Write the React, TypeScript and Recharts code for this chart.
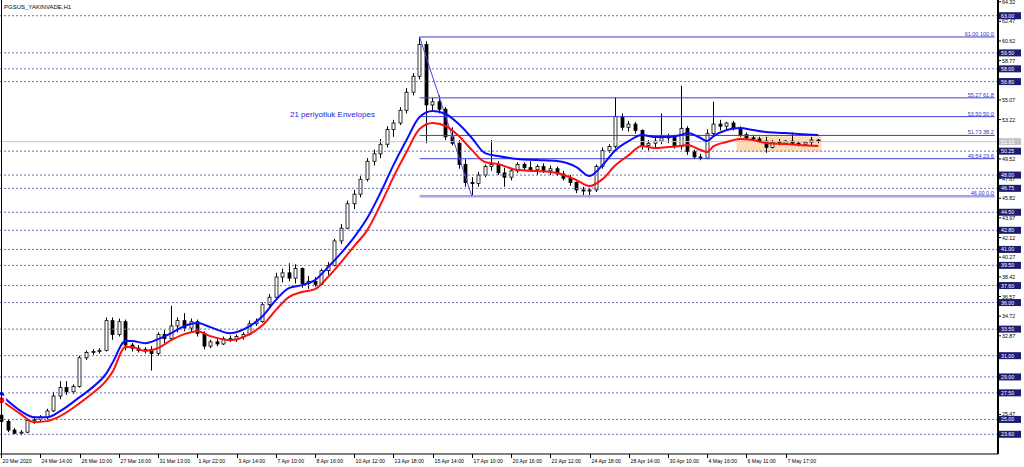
import {
  Bar,
  ComposedChart,
  Line,
  ReferenceArea,
  ReferenceLine,
  XAxis,
  YAxis
} from "recharts";

type Ohlc = [number, number, number, number]; // open, high, low, close

const candlesMarch: Ohlc[] = [
  [25.4, 25.6, 24.6, 24.8], [24.8, 25.0, 23.8, 24.0], [24.0, 24.2, 23.6, 23.7], [23.7, 24.0, 23.5, 23.8],
  [23.8, 25.0, 23.7, 24.9], [24.9, 25.3, 24.6, 25.0], [25.0, 25.4, 24.8, 25.2], [25.2, 26.0, 25.0, 25.8],
  [25.8, 27.6, 25.7, 27.2], [27.2, 28.6, 26.9, 28.0], [28.0, 28.6, 27.3, 27.6], [27.6, 28.3, 27.4, 28.1],
  [28.1, 31.0, 28.0, 30.8], [30.8, 31.5, 30.6, 31.3], [31.3, 31.6, 31.1, 31.4], [31.4, 31.7, 31.2, 31.5],
  [31.5, 34.6, 31.4, 34.3], [34.3, 34.6, 32.5, 33.0], [33.0, 34.5, 32.8, 34.2], [34.2, 34.4, 31.5, 32.0],
  [32.0, 32.2, 31.4, 31.7], [31.7, 32.0, 31.3, 31.5], [31.5, 31.8, 31.2, 31.6], [31.6, 31.9, 29.6, 31.2],
  [31.2, 33.2, 31.0, 33.0], [33.0, 33.4, 32.2, 32.6], [32.6, 35.7, 32.4, 33.8], [33.8, 34.6, 33.2, 34.3],
  [34.3, 35.0, 33.3, 33.6], [33.6, 34.5, 33.2, 34.2], [34.2, 34.4, 32.8, 33.1]
];

const candlesEarlyApril: Ohlc[] = [
  [33.1, 33.3, 31.6, 31.9], [31.9, 32.5, 31.7, 32.3], [32.3, 32.6, 31.9, 32.1], [32.1, 32.8, 32.0, 32.6],
  [32.6, 32.9, 32.3, 32.5], [32.5, 33.0, 32.3, 32.8], [32.8, 33.2, 32.5, 33.0], [33.0, 34.3, 32.9, 34.0],
  [34.0, 34.5, 33.8, 34.2], [34.2, 36.0, 34.1, 35.8], [35.8, 36.8, 35.5, 36.5], [36.5, 38.8, 36.4, 38.4],
  [38.4, 39.2, 37.9, 38.8], [38.8, 39.7, 38.0, 38.3], [38.3, 39.6, 37.8, 39.2], [39.2, 39.3, 37.4, 37.8],
  [37.8, 38.5, 37.3, 38.0], [38.0, 38.4, 37.5, 37.7], [37.7, 39.2, 37.6, 39.0], [39.0, 39.8, 38.6, 39.5],
  [39.5, 42.0, 39.4, 41.8], [41.8, 43.4, 41.5, 43.0], [43.0, 45.6, 42.9, 45.3], [45.3, 46.6, 44.8, 46.2],
  [46.2, 47.9, 45.9, 47.6], [47.6, 49.6, 47.4, 49.3], [49.3, 50.4, 48.9, 50.0], [50.0, 51.4, 49.6, 50.9],
  [50.9, 52.6, 50.6, 52.3], [52.3, 53.2, 51.6, 52.9], [52.9, 54.4, 52.7, 54.1], [54.1, 56.2, 53.8, 55.8],
  [55.8, 57.6, 55.5, 57.3], [57.3, 61.0, 57.0, 60.3]
];

const candlesLateApril: Ohlc[] = [
  [60.3, 60.6, 51.0, 54.6], [54.6, 55.3, 54.0, 54.9], [54.9, 55.5, 53.8, 54.2], [54.2, 54.4, 51.3, 51.6],
  [51.6, 52.5, 50.8, 51.0], [51.0, 51.3, 48.6, 49.0], [49.0, 49.5, 46.9, 47.3], [47.3, 47.8, 46.0, 47.2],
  [47.2, 48.3, 46.9, 48.0], [48.0, 49.0, 47.8, 48.8], [48.8, 51.3, 48.4, 49.0], [49.0, 49.3, 48.0, 48.2],
  [48.2, 48.7, 46.9, 47.8], [47.8, 48.6, 47.5, 48.4], [48.4, 49.2, 48.2, 49.0], [49.0, 49.2, 48.4, 48.7],
  [48.7, 49.3, 48.3, 48.5], [48.5, 49.0, 48.0, 48.8], [48.8, 49.1, 48.2, 48.4], [48.4, 48.9, 48.0, 48.6],
  [48.6, 48.8, 47.9, 48.1], [48.1, 48.4, 47.5, 47.7], [47.7, 48.0, 47.0, 47.3], [47.3, 47.4, 46.3, 46.6],
  [46.6, 46.9, 46.1, 46.5], [46.5, 46.8, 45.9, 46.6], [46.6, 49.0, 46.4, 48.8], [48.8, 50.6, 48.6, 50.3],
  [50.3, 50.9, 50.1, 50.7], [50.7, 55.3, 50.5, 53.5], [53.5, 53.8, 52.2, 52.5], [52.5, 53.1, 52.1, 52.8],
  [52.8, 53.0, 51.9, 52.2], [52.2, 52.3, 50.4, 50.8], [50.8, 51.3, 50.3, 51.0], [51.0, 51.5, 50.6, 51.2],
  [51.2, 53.8, 50.9, 51.5], [51.5, 51.9, 51.0, 51.6], [51.6, 51.8, 50.5, 50.7]
];

const candlesMay: Ohlc[] = [
  [50.7, 56.4, 50.4, 52.4], [52.4, 52.6, 49.9, 50.2], [50.2, 50.4, 49.5, 49.7], [49.7, 50.0, 49.4, 49.6],
  [49.6, 52.3, 49.5, 51.9], [51.9, 54.9, 51.6, 52.8], [52.8, 53.2, 52.2, 52.6], [52.6, 53.0, 52.3, 52.9],
  [52.9, 53.1, 52.2, 52.4], [52.4, 52.6, 51.6, 51.8], [51.8, 52.0, 51.3, 51.5], [51.5, 51.8, 51.2, 51.4],
  [51.4, 51.6, 51.1, 51.2], [51.2, 51.6, 50.1, 50.6], [50.6, 51.3, 50.5, 51.1], [51.1, 51.4, 50.8, 51.0],
  [51.0, 51.3, 50.9, 51.2], [51.2, 52.0, 50.9, 51.0], [51.0, 51.2, 50.7, 50.9], [50.9, 51.2, 50.8, 51.1],
  [51.1, 51.6, 50.8, 51.3], [51.3, 51.4, 51.0, 51.15]
];

// 21 periyotluk envelope, read at these bars
const envBars = [0, 3, 5, 7, 9, 12, 14, 16, 17, 19, 20, 22, 24, 26, 28, 30, 32, 35, 38, 40, 42, 44, 46, 48, 50,
  52, 54, 56, 58, 60, 62, 64, 66, 68, 70, 72, 74, 76, 79, 82, 85, 88, 90, 92, 94, 96, 98, 100, 102, 104,
  105, 107, 108, 109, 111, 113, 115, 117, 120, 122, 125];
const envUpper = [27.29, 25.78, 25.21, 25.21, 25.78, 27.1, 28.04, 29.26, 30.3, 32.37, 32.37, 32.18, 32.56,
  33.12, 33.78, 34.07, 33.69, 33.12, 33.78, 34.73, 36.23, 37.36, 37.64, 38.11, 39.34, 40.66, 42.16, 43.95,
  46.31, 48.94, 51.3, 53.46, 54.03, 53.75, 52.8, 51.49, 50.07, 49.79, 49.51, 49.41, 49.32, 48.75, 47.91,
  48.94, 50.36, 51.2, 51.77, 51.58, 51.58, 51.77, 51.96, 51.49, 51.2, 51.67, 52.24, 52.43, 52.24, 52.05,
  51.96, 51.86, 51.77];
const envLower = [26.81, 25.5, 24.74, 24.84, 25.31, 26.53, 27.48, 28.6, 29.45, 31.81, 31.81, 31.43, 31.71,
  32.46, 33.03, 33.31, 32.84, 32.46, 33.03, 33.88, 35.29, 36.51, 36.99, 37.27, 38.4, 39.81, 41.32, 42.82,
  45.18, 47.81, 50.17, 52.33, 52.9, 52.62, 51.67, 50.36, 49.23, 49.04, 48.47, 48.38, 48.19, 47.53, 46.97,
  47.63, 48.94, 49.88, 50.73, 50.54, 50.64, 50.73, 50.83, 50.36, 50.17, 50.73, 51.11, 51.39, 51.3, 51.02,
  50.92, 50.83, 50.73];

const labelBars = [0, 6, 12, 18, 24, 30, 36, 42, 48, 54, 60, 66, 72, 78, 84, 90, 96, 102, 108, 114, 120];
const timeLabels = ["20 Mar 2020", "24 Mar 14:00", "26 Mar 10:00", "27 Mar 16:00", "31 Mar 13:00",
  "1 Apr 22:00", "3 Apr 14:00", "7 Apr 10:00", "8 Apr 16:00", "10 Apr 12:00", "13 Apr 18:00",
  "15 Apr 14:00", "17 Apr 10:00", "20 Apr 16:00", "22 Apr 12:00", "24 Apr 18:00", "28 Apr 14:00",
  "30 Apr 10:00", "4 May 16:00", "6 May 11:00", "7 May 17:00"];

// scale labels that are not hidden under a level box
const scaleTicks = [64.32, 62.47, 60.62, 58.77, 56.92, 55.07, 53.22, 49.52, 47.67, 45.82, 43.97,
  42.12, 40.27, 38.42, 36.57, 34.72, 32.87, 25.47];
const priceLevels = [63, 59.5, 58, 56.8, 50.25, 48, 46.75, 44.5, 42.8, 41, 39.5, 37.6, 36, 33.5, 31, 29,
  27.5, 25, 23.6];
const lastPrice = 51.15;

const fibLevels = [61, 55.27, 53.5, 51.73, 49.54, 46];
const fibPercents = ["100.0", "61.8", "50.0", "38.2", "23.6", "0.0"];
const fibHighBar = 64;
const fibLowBar = 72;
const boxBars = [113, 125];
const boxPrices = [50.2, 51.65];

const slotCount = 153;
const font = "'Liberation Sans', Arial, sans-serif";

const candles = [...candlesMarch, ...candlesEarlyApril, ...candlesLateApril, ...candlesMay];

const data = Array.from({ length: slotCount }, (_, i) => {
  const c = candles[i];
  const k = envBars.indexOf(i);
  return {
    i,
    o: c ? c[0] : null,
    h: c ? c[1] : null,
    l: c ? c[2] : null,
    c: c ? c[3] : null,
    range: c ? [c[2], c[1]] : null,
    upper: k >= 0 ? envUpper[k] : null,
    lower: k >= 0 ? envLower[k] : null
  };
});

function Candle(props: any) {
  const { x, y, width, height, payload } = props;
  if (!payload || payload.h == null) return null;
  const { o, h, l, c } = payload;
  const top = Math.min(y, y + height);
  const span = Math.abs(height);
  const k = h === l ? 0 : span / (h - l);
  const cx = Math.round(x + width / 2) + 0.5;
  const yOf = (v: number) => top + (h - v) * k;
  const bodyTop = yOf(Math.max(o, c));
  const bodyBot = yOf(Math.min(o, c));
  const up = c >= o;
  return (
    <g>
      <line x1={cx} x2={cx} y1={top} y2={top + span} stroke="#000" strokeWidth={1} />
      <rect
        x={cx - 1.5}
        y={bodyTop}
        width={3}
        height={Math.max(0.8, bodyBot - bodyTop)}
        fill={up ? "#fff" : "#000"}
        stroke="#000"
        strokeWidth={0.8}
      />
    </g>
  );
}

function PriceTick(props: any) {
  const { x, y, payload } = props;
  const v = payload.value as number;
  const ax = x - 4;
  if (priceLevels.includes(v) || v === lastPrice) {
    return (
      <g>
        <rect x={ax + 1} y={y - 3.5} width={22} height={7} fill={v === lastPrice ? "#c4c4c4" : "#1c1c74"} />
        <text x={ax + 3} y={y + 2} fontSize={5.3} fill="#fff" fontFamily={font}>
          {v.toFixed(2)}
        </text>
      </g>
    );
  }
  return (
    <g>
      <line x1={ax} x2={ax + 3} y1={y} y2={y} stroke="#000" />
      <text x={ax + 4} y={y + 2} fontSize={5.3} fill="#000" fontFamily={font}>
        {v.toFixed(2)}
      </text>
    </g>
  );
}

function TimeTick(props: any) {
  const { x, y, payload } = props;
  const k = labelBars.indexOf(payload.value);
  const tx = Math.round(x) + 0.5;
  return (
    <g>
      <line x1={tx} x2={tx} y1={y} y2={y + 4} stroke="#000" />
      <text x={tx + 1} y={y + 9} fontSize={5.2} fill="#000" fontFamily={font}>
        {timeLabels[k]}
      </text>
    </g>
  );
}

export default function App() {
  return (
    <div style={{ position: "absolute", left: 0, top: 0, width: 1024, height: 467, background: "#fff" }}>
      <ComposedChart
        width={1024}
        height={467}
        data={data}
        margin={{ top: 0, right: 0, left: -2, bottom: 0 }}
      >
        <XAxis
          dataKey="i"
          type="category"
          ticks={labelBars}
          interval={0}
          tick={<TimeTick />}
          tickLine={false}
          tickSize={0}
          tickMargin={0}
          axisLine={{ stroke: "#000" }}
          height={13}
        />
        <YAxis
          orientation="right"
          domain={[21.745, 64.48]}
          allowDataOverflow
          ticks={[...scaleTicks, ...priceLevels, lastPrice]}
          interval={0}
          tick={<PriceTick />}
          tickLine={false}
          tickSize={4}
          tickMargin={0}
          axisLine={{ stroke: "#000", strokeWidth: 2 }}
          width={26}
        />
        <ReferenceArea
          x1={boxBars[0]}
          x2={boxBars[1]}
          y1={boxPrices[0]}
          y2={boxPrices[1]}
          fill="#fcdcb6"
          fillOpacity={1}
          stroke="none"
        />
        {priceLevels.map((v) => (
          <ReferenceLine key={v} y={v} stroke="#6c6cbc" strokeDasharray="2 2" />
        ))}
        <ReferenceLine y={lastPrice} stroke="#c8c8c8" />
        {fibLevels.map((v, k) => (
          <ReferenceLine
            key={`fib-${v}`}
            segment={[
              { x: fibHighBar, y: v },
              { x: slotCount - 1, y: v }
            ]}
            stroke={v === 46 ? "#a4a4ee" : "#3c3cd6"}
            strokeWidth={v === 46 ? 2.5 : 1}
            label={{
              value: `${v.toFixed(2)} ${fibPercents[k]}`,
              position: "insideBottomRight",
              offset: 1,
              fontSize: 5.5,
              fill: "#3434c4",
              fontFamily: font
            }}
          />
        ))}
        <ReferenceLine
          segment={[
            { x: fibHighBar, y: fibLevels[0] },
            { x: fibLowBar, y: fibLevels[fibLevels.length - 1] }
          ]}
          stroke="#4a4ae0"
        />
        <Bar dataKey="range" barSize={4} shape={<Candle />} isAnimationActive={false} />
        <Line
          dataKey="upper"
          type="monotone"
          stroke="#0a0aff"
          strokeWidth={2}
          dot={false}
          connectNulls
          isAnimationActive={false}
        />
        <Line
          dataKey="lower"
          type="monotone"
          stroke="#ff1010"
          strokeWidth={2}
          dot={false}
          connectNulls
          isAnimationActive={false}
        />
      </ComposedChart>
      <div
        style={{
          position: "absolute",
          left: 1,
          top: 0,
          width: 1,
          height: 454,
          background: "#000"
        }}
      />
      <div
        style={{
          position: "absolute",
          left: 4,
          top: 4,
          fontSize: 6,
          fontFamily: font,
          color: "#000",
          lineHeight: "7px"
        }}
      >
        PGSUS_YAKINVADE,H1
      </div>
      <div
        style={{
          position: "absolute",
          left: 290,
          top: 110,
          fontSize: 8,
          fontFamily: font,
          color: "#2424e0",
          lineHeight: "10px"
        }}
      >
        21 periyotluk Envelopes
      </div>
    </div>
  );
}
